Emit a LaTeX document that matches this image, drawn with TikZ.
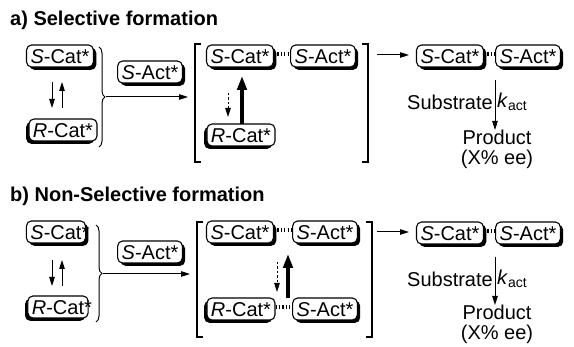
\documentclass[tikz,border=0pt]{standalone}
\usepackage{fontspec}
\setmainfont{Liberation Sans}
\usetikzlibrary{shadows,arrows.meta,decorations.pathreplacing}
\begin{document}
\begin{tikzpicture}[x=1pt,y=-1pt,
  every node/.style={font=\fontsize{20}{24}\selectfont, inner sep=0pt},
  boxbase/.style={draw, line width=1.1pt, rounded corners=5pt, fill=white, inner xsep=4pt, inner ysep=0pt, minimum height=22pt, text height=14.5pt, text depth=0pt},
  boxr/.style={boxbase, drop shadow={shadow xshift=2.8pt, shadow yshift=-2.8pt, opacity=1, fill=black}},
  boxl/.style={boxbase, drop shadow={shadow xshift=-2.8pt, shadow yshift=-2.8pt, opacity=1, fill=black}},
  title/.style={anchor=west, font=\fontsize{20}{24}\selectfont\bfseries},
  link/.style={line width=4pt, dash pattern=on 1.2pt off 2.2pt},
  arr/.style={-{Triangle[length=9pt,width=5.5pt]}, line width=1pt},
  thickarr/.style={-{Triangle[length=14pt,width=9.5pt]}, line width=3.2pt},
  dasharr/.style={arr, dash pattern=on 2.5pt off 2pt},
  brk/.style={line width=1.1pt},
  brc/.style={line width=1pt, decorate, decoration={brace, amplitude=6pt}},
  prodtext/.style={align=center, font=\fontsize{20}{19.5}\selectfont, anchor=north}
]
\useasboundingbox (0,0) rectangle (574,347);

% ---------------- a) ----------------
\node[title] (ta) at (10,20) {a) Selective formation};
\node[boxr] (lsc) at (60,56) {\textit{S}-Cat*};
\node[boxl] (lrc) at (63,130) {\textit{R}-Cat*};
\coordinate (ea1) at (52,82); \coordinate (ea2) at (52,108);
\coordinate (eb1) at (62,108); \coordinate (eb2) at (62,82);
\draw[arr] (ea1) -- (ea2);
\draw[arr] (eb1) -- (eb2);
\coordinate (bra1) at (99,47); \coordinate (bra2) at (99,147);
\draw[brc] (bra1) -- (bra2);
\coordinate (tipa) at (106,97); \coordinate (enda) at (188,97);
\draw[arr] (tipa) -- (enda);
\node[boxr] (saa) at (150,72) {\textit{S}-Act*};
% bracket
\draw[brk] (201,44) -- (195,44) -- (195,162) -- (201,162);
\draw[brk] (362,44) -- (368,44) -- (368,162) -- (362,162);
\node[boxr] (isca) at (240,56) {\textit{S}-Cat*};
\node[boxr] (isaa) at (323,56) {\textit{S}-Act*};
\draw[link] ([yshift=2pt]isca.east) -- ([yshift=2pt]isaa.west);
\node[boxl] (irca) at (241,135) {\textit{R}-Cat*};
\coordinate (da1) at (228,93); \coordinate (da2) at (228,117);
\draw[dasharr] (da1) -- (da2);
\coordinate (ua1) at (242,124); \coordinate (ua2) at (242,76);
\draw[thickarr] (ua1) -- (ua2);
\coordinate (ra1) at (377,55); \coordinate (ra2) at (409,55);
\draw[arr] (ra1) -- (ra2);
\node[boxr] (rsca) at (450,56) {\textit{S}-Cat*};
\node[boxr] (rsaa) at (528,56) {\textit{S}-Act*};
\draw[link] ([yshift=2pt]rsca.east) -- ([yshift=2pt]rsaa.west);
\node[prodtext] (proda) at (497,130) {Product\\(X\% ee)};
\coordinate (va) at (495,80);
\draw[arr] (va) -- (va |- proda.north);
\node[anchor=east] (suba) at (493,102) {Substrate};
\node[anchor=west] (ka) at (497,102) {\textit{k}\textsubscript{act}};

% ---------------- b) ----------------
\node[title] (tb) at (10,196) {b) Non-Selective formation};
\node[boxr] (lscb) at (56,232) {\textit{S}-Cat\rlap{*}};
\node[boxl] (lrcb) at (58,307) {\textit{R}-Cat\rlap{*}};
\coordinate (eb1a) at (52,260); \coordinate (eb1b) at (52,286);
\coordinate (eb2a) at (62,286); \coordinate (eb2b) at (62,260);
\draw[arr] (eb1a) -- (eb1b);
\draw[arr] (eb2a) -- (eb2b);
\coordinate (brb1) at (96,225); \coordinate (brb2) at (96,322);
\draw[brc] (brb1) -- (brb2);
\coordinate (tipb) at (103,274); \coordinate (endb) at (190,274);
\draw[arr] (tipb) -- (endb);
\node[boxr] (sab) at (150,252) {\textit{S}-Act*};
\draw[brk] (203,222) -- (197,222) -- (197,337) -- (203,337);
\draw[brk] (366,222) -- (372,222) -- (372,337) -- (366,337);
\node[boxr] (iscb) at (240,232) {\textit{S}-Cat*};
\node[boxr] (isab) at (325,232) {\textit{S}-Act*};
\draw[link] ([yshift=2pt]iscb.east) -- ([yshift=2pt]isab.west);
\node[boxl] (ircb) at (241,309) {\textit{R}-Cat*};
\node[boxr] (isbb) at (325,309) {\textit{S}-Act*};
\draw[link] ([yshift=2pt]ircb.east) -- ([yshift=2pt]isbb.west);
\coordinate (db1) at (277,262); \coordinate (db2) at (277,292);
\draw[dasharr] (db1) -- (db2);
\coordinate (ub1) at (288,298); \coordinate (ub2) at (288,254);
\draw[thickarr] (ub1) -- (ub2);
\coordinate (rb1) at (377,232); \coordinate (rb2) at (409,232);
\draw[arr] (rb1) -- (rb2);
\node[boxr] (rscb) at (450,233) {\textit{S}-Cat*};
\node[boxr] (rsab) at (528,233) {\textit{S}-Act*};
\draw[link] ([yshift=2pt]rscb.east) -- ([yshift=2pt]rsab.west);
\node[prodtext] (prodb) at (497,305) {Product\\(X\% ee)};
\coordinate (vb) at (495,257);
\draw[arr] (vb) -- (vb |- prodb.north);
\node[anchor=east] (subb) at (493,279) {Substrate};
\node[anchor=west] (kb) at (497,279) {\textit{k}\textsubscript{act}};
\end{tikzpicture}
\end{document}
